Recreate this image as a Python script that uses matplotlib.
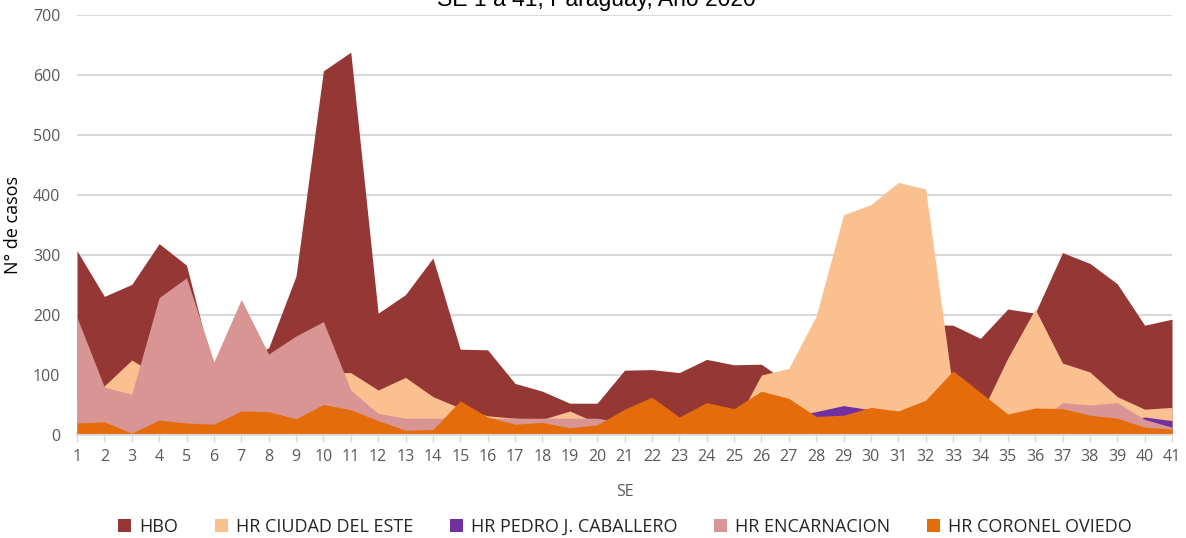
import matplotlib
matplotlib.use("Agg")
import matplotlib.pyplot as plt
from matplotlib.patches import Patch

weeks = list(range(1, 42))
series_names = ["HBO", "HR CIUDAD DEL ESTE", "HR PEDRO J. CABALLERO", "HR ENCARNACION", "HR CORONEL OVIEDO"]

hbo = [307, 231, 251, 319, 283, 105, 130, 145, 265, 607, 638, 203, 234, 295, 143, 142, 86, 73, 53, 53,
       108, 109, 104, 126, 117, 118, 86, 100, 120, 140, 160, 184, 183, 161, 210, 203, 304, 286, 252, 183, 193]
cde = [60, 82, 125, 97, 70, 60, 80, 70, 90, 104, 104, 75, 96, 64, 45, 32, 28, 26, 40, 20,
       20, 20, 15, 20, 15, 100, 111, 198, 367, 384, 421, 410, 75, 33, 128, 210, 120, 105, 64, 43, 46]
pjc = [5, 5, 3, 5, 5, 5, 8, 8, 5, 10, 10, 8, 5, 5, 10, 10, 8, 8, 5, 8,
       10, 10, 10, 10, 10, 15, 30, 39, 49, 42, 30, 30, 25, 20, 20, 20, 20, 20, 20, 30, 24]
enc = [196, 80, 68, 229, 262, 122, 226, 135, 165, 189, 75, 36, 28, 28, 28, 28, 28, 28, 28, 28,
       20, 15, 15, 15, 15, 15, 15, 15, 15, 15, 15, 15, 15, 15, 15, 20, 54, 50, 54, 26, 13]
cov = [20, 22, 3, 25, 20, 18, 40, 39, 27, 51, 42, 24, 8, 9, 57, 30, 18, 21, 12, 17,
       43, 63, 30, 54, 44, 73, 61, 31, 33, 46, 40, 58, 107, 71, 35, 45, 44, 33, 28, 13, 10]

colors = ["#953735", "#FAC090", "#7030A0", "#D99594", "#E46C0A"]
yticks = [0, 100, 200, 300, 400, 500, 600, 700]

FONT = "Open Sans"
TXT = "#595959"

fig = plt.figure(figsize=(11.86, 5.38), dpi=100)
ax = fig.add_axes([77/1186, 1-435/538, (1172-77)/1186, (435-15)/538])

for vals, c in zip([hbo, cde, pjc, enc, cov], colors):
    ax.fill_between(weeks, 0, vals, color=c, linewidth=0, zorder=2)

ax.set_xlim(1, 41)
ax.set_ylim(0, 700)
ax.set_yticks(yticks)
ax.set_xticks(weeks)
ax.grid(axis="y", color="#d9d9d9", linewidth=1.5, zorder=0)
ax.set_axisbelow(True)
for s in ["left", "right", "top"]:
    ax.spines[s].set_visible(False)
ax.spines["bottom"].set_color("#d9d9d9")
ax.spines["bottom"].set_linewidth(1.5)
ax.spines["bottom"].set_zorder(3)
ax.tick_params(axis="y", length=0, pad=12, labelsize=11.5, labelcolor=TXT)
ax.tick_params(axis="x", length=5, width=1, color="#d9d9d9", pad=5, labelsize=11.5, labelcolor=TXT)
for lab in ax.get_xticklabels() + ax.get_yticklabels():
    lab.set_fontfamily(FONT)

ax.set_ylabel("N° de casos", fontsize=13, fontfamily=FONT, color="black", labelpad=8)
ax.set_xlabel("SE", fontsize=11.5, fontfamily=FONT, color=TXT, labelpad=14)

fig.text(596/1186, 1-6/538, "SE 1 a 41, Paraguay, Año 2020", ha="center", va="baseline",
         fontsize=16.5, fontfamily="Liberation Sans", color="black")

handles = [Patch(facecolor=c, edgecolor="none") for c in colors]
leg = fig.legend(handles, series_names, loc="center", bbox_to_anchor=(625/1186, 1-527/538),
                 ncol=5, frameon=False, handlelength=0.7, handleheight=0.7, handletextpad=0.45,
                 columnspacing=2.05, prop={"family": FONT, "size": 13})
for t in leg.get_texts():
    t.set_color("#262626")

fig.savefig("out.png", dpi=100)
